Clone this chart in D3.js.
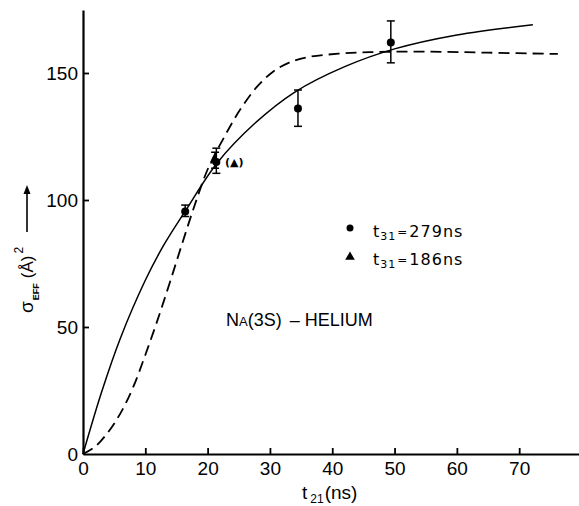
<!DOCTYPE html>
<html>
<head>
<meta charset="utf-8">
<script src="https://cdnjs.cloudflare.com/ajax/libs/d3/7.8.5/d3.min.js"></script>
<style>
  body { margin: 0; background: #fff; }
  svg { display: block; }
</style>
</head>
<body>
<div id="chart-area"></div>
<script>
  // tick labels
  var tickX = [0, 10, 20, 30, 40, 50, 60, 70];
  var tickY = [0, 50, 100, 150];

  // measured points, t31 = 279ns (circles)
  var circleT = [16.4, 21.4, 34.5, 49.4];
  var circleSigma = [95.5, 115, 136, 162];
  var circleLow = [93.5, 110.5, 129, 154];
  var circleHigh = [98, 120.4, 143.3, 170.5];

  // measured point, t31 = 186ns (triangle)
  var triangleT = [21.2];
  var triangleSigma = [115.5];
  var triangleLow = [112.5];
  var triangleHigh = [118.8];

  // solid curve
  var solidT = [0, 3, 6, 10, 13, 16.4, 21.5, 27.5, 34, 42, 50, 60, 72.2];
  var solidSigma = [0, 24.5, 45.6, 68.4, 82.4, 95.6, 114.5, 130, 142.5, 152.5, 159.5, 165, 169];

  // dashed curve
  var dashedT = [0, 2, 4, 6, 8, 10, 12, 14, 16, 18, 20, 22.6, 25.2, 27.9, 30.5, 33, 36, 41, 46, 55, 65, 76.2];
  var dashedSigma = [0, 3, 8.5, 16, 26, 39, 53, 68, 83.5, 98.5, 112, 124.5, 135.5, 144.5, 150.5, 154, 156.2, 157.6, 158.2, 158.4, 158, 157.5];

  var width = 579;
  var height = 506;

  var svg = d3.select('#chart-area')
    .append('svg')
      .attr('width', width)
      .attr('height', height);

  // scales - origin at (83, 454)
  var x = d3.scaleLinear()
    .domain([0, 79.6])
    .range([83, 579]);

  var y = d3.scaleLinear()
    .domain([0, 174.8])
    .range([454, 10]);

  // x axis, ticks pointing up into the plot
  var xAxisCall = d3.axisBottom(x)
    .tickValues(tickX)
    .tickSizeInner(-6)
    .tickSizeOuter(0)
    .tickPadding(8);

  var xAxis = svg.append('g')
    .attr('transform', 'translate(0,' + y(0) + ')')
    .call(xAxisCall);

  // y axis, ticks pointing right
  var yAxisCall = d3.axisLeft(y)
    .tickValues(tickY)
    .tickSizeInner(-6)
    .tickSizeOuter(0)
    .tickPadding(5);

  var yAxis = svg.append('g')
    .attr('transform', 'translate(' + x(0) + ',0)')
    .call(yAxisCall);

  [xAxis, yAxis].forEach(function (ax) {
    ax.select('.domain').attr('stroke', '#000').attr('stroke-width', 2.2);
    ax.selectAll('.tick line').attr('stroke', '#000').attr('stroke-width', 1.8);
    ax.selectAll('.tick text')
      .attr('fill', '#000')
      .attr('font-family', 'Liberation Sans, Arial, sans-serif')
      .attr('font-size', '19px');
  });
  yAxis.selectAll('.tick').filter(function (d) { return d === 0; }).select('line').remove();

  // curves
  var line = d3.line()
    .x(function (d) { return x(d[0]); })
    .y(function (d) { return y(d[1]); })
    .curve(d3.curveCatmullRom.alpha(0.5));

  svg.append('path')
    .attr('d', line(d3.zip(solidT, solidSigma)))
    .attr('fill', 'none')
    .attr('stroke', '#000')
    .attr('stroke-width', 1.5);

  svg.append('path')
    .attr('d', line(d3.zip(dashedT, dashedSigma)))
    .attr('fill', 'none')
    .attr('stroke', '#000')
    .attr('stroke-width', 1.8)
    .attr('stroke-dasharray', '11,6');

  // error bars
  function errorBars(ts, lows, highs) {
    var g = svg.append('g').attr('stroke', '#000').attr('stroke-width', 1.5);
    ts.forEach(function (t, i) {
      g.append('line')
        .attr('x1', x(t)).attr('x2', x(t))
        .attr('y1', y(lows[i])).attr('y2', y(highs[i]));
      [lows[i], highs[i]].forEach(function (v) {
        g.append('line')
          .attr('x1', x(t) - 4).attr('x2', x(t) + 4)
          .attr('y1', y(v)).attr('y2', y(v));
      });
    });
  }
  errorBars(triangleT, triangleLow, triangleHigh);
  errorBars(circleT, circleLow, circleHigh);

  var triangle = d3.symbol().type(d3.symbolTriangle).size(45);

  svg.selectAll('.tri')
    .data(d3.zip(triangleT, triangleSigma))
    .enter()
    .append('path')
      .attr('class', 'tri')
      .attr('d', triangle)
      .attr('transform', function (d) { return 'translate(' + x(d[0]) + ',' + y(d[1]) + ')'; })
      .attr('fill', '#000');

  svg.selectAll('.dot')
    .data(d3.zip(circleT, circleSigma))
    .enter()
    .append('circle')
      .attr('class', 'dot')
      .attr('cx', function (d) { return x(d[0]); })
      .attr('cy', function (d) { return y(d[1]); })
      .attr('r', 4)
      .attr('fill', '#000');

  // "(▲)" tag beside the overlapping point
  svg.append('text')
    .attr('x', x(triangleT[0]) + 10)
    .attr('y', y(triangleSigma[0]) + 5)
    .attr('font-family', 'DejaVu Sans, sans-serif')
    .attr('font-size', '11px')
    .attr('font-weight', 'bold')
    .text('(▲)');

  // legend
  var legendFont = 'DejaVu Sans, sans-serif';
  svg.append('circle')
    .attr('cx', 350).attr('cy', 228).attr('r', 3.5).attr('fill', '#000');
  svg.append('path')
    .attr('d', d3.symbol().type(d3.symbolTriangle).size(40))
    .attr('transform', 'translate(350,257)')
    .attr('fill', '#000');

  [['279ns', 237], ['186ns', 265]].forEach(function (row) {
    var t = svg.append('text')
      .attr('x', 373)
      .attr('y', row[1])
      .attr('font-family', legendFont)
      .attr('font-size', '16px')
      .attr('letter-spacing', '1px');
    t.append('tspan').text('t');
    t.append('tspan').attr('font-size', '11px').attr('dy', 3).text('31');
    t.append('tspan').attr('font-size', '12px').attr('dy', -4).attr('dx', 1).text('=');
    t.append('tspan').attr('dy', 1).attr('dx', 1).text(row[0]);
  });

  // Na(3S) - Helium note
  var note = svg.append('text')
    .attr('x', 226)
    .attr('y', 326)
    .attr('font-family', 'Liberation Sans, Arial, sans-serif')
    .attr('font-size', '18px');
  note.append('tspan').text('N');
  note.append('tspan').attr('font-size', '13px').text('A');
  note.append('tspan').text('(3S)');
  note.append('tspan').attr('dx', 8).text('–');
  note.append('tspan').attr('dx', 5).text('HELIUM');

  // x axis title
  var xTitle = svg.append('text')
    .attr('x', 302)
    .attr('y', 499)
    .attr('font-family', 'Liberation Sans, Arial, sans-serif')
    .attr('font-size', '19px');
  xTitle.append('tspan').text('t');
  xTitle.append('tspan').attr('font-size', '12px').attr('dx', 3).attr('dy', 4).text('21');
  xTitle.append('tspan').attr('dy', -4).attr('dx', 1).text('(ns)');

  // y axis title, rotated
  var yTitle = svg.append('text')
    .attr('transform', 'translate(33,313) rotate(-90)')
    .attr('font-family', 'Liberation Sans, Arial, sans-serif')
    .attr('font-size', '17px');
  yTitle.append('tspan').attr('font-size', '19px').text('σ');
  yTitle.append('tspan').attr('font-size', '9px').attr('font-weight', 'bold').attr('dy', 6).attr('dx', 1).text('EFF');
  yTitle.append('tspan').attr('dy', -6).attr('dx', 5).text('(Å)');
  yTitle.append('tspan').attr('font-size', '12px').attr('dy', -10).attr('dx', 2).text('2');

  // arrow next to the y title
  svg.append('line')
    .attr('x1', 27).attr('x2', 27)
    .attr('y1', 232).attr('y2', 192)
    .attr('stroke', '#000')
    .attr('stroke-width', 1.6);
  svg.append('path')
    .attr('d', 'M27,185 L23.5,194 L30.5,194 Z')
    .attr('fill', '#000');
</script>
</body>
</html>
